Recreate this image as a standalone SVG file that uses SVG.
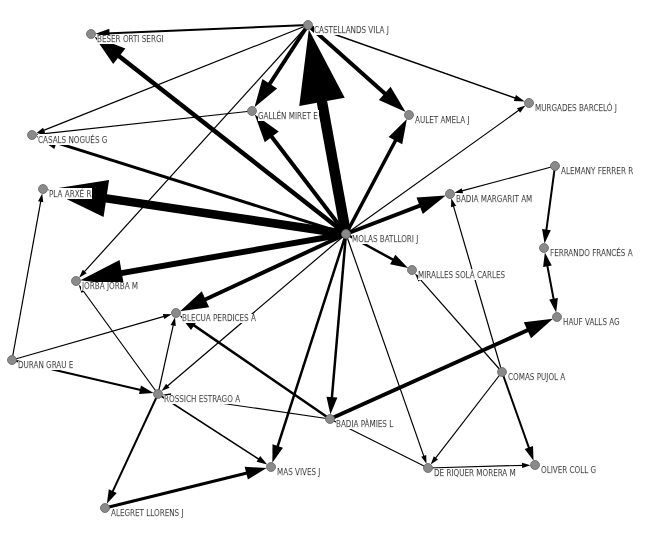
<svg xmlns="http://www.w3.org/2000/svg" width="648" height="542" viewBox="0 0 648 542">
<style>
.e{stroke:#000;fill:none}
.a{marker-end:url(#arr)}
.n circle{fill:#8a8a8a;stroke:#666;stroke-width:0.8}
.n text{font-family:"Liberation Sans Narrow","DejaVu Sans Condensed","Liberation Sans",sans-serif;font-stretch:condensed;font-size:8px;fill:#000;stroke:#000;stroke-width:0.25;filter:url(#bg)}
</style>
<defs>
<marker id="arr" viewBox="0 -2.2 7 4.4" markerWidth="7" markerHeight="4.4" refX="2" refY="0" orient="auto-start-reverse" markerUnits="strokeWidth" overflow="visible">
<path d="M0,-2.2 L7,0 L0,2.2 Z" fill="#000"/>
</marker>
<filter id="bg" x="0" y="0" width="1" height="1">
<feFlood flood-color="#fff"/>
<feComposite in="SourceGraphic" operator="over"/>
</filter>
</defs>
<rect width="648" height="542" fill="#fff"/>
<g id="edges" class="e">
<line class="a" x1="346" y1="234" x2="318.2" y2="81.1" stroke-width="10.5"/>
<line class="a" x1="346" y1="234" x2="89.5" y2="195.9" stroke-width="8.5"/>
<line class="a" x1="346" y1="234" x2="110" y2="275.1" stroke-width="6"/>
<line class="a" x1="346" y1="234" x2="112.2" y2="50.7" stroke-width="4.5"/>
<line class="a" x1="346" y1="234" x2="266.9" y2="130.5" stroke-width="4"/>
<line class="a" x1="346" y1="234" x2="398.7" y2="134.5" stroke-width="3.5"/>
<line class="a" x1="346" y1="234" x2="198.2" y2="302.7" stroke-width="4"/>
<line class="a" x1="346" y1="234" x2="427.1" y2="202.8" stroke-width="4"/>
<line class="a" x1="346" y1="234" x2="50.6" y2="140.9" stroke-width="3"/>
<line class="a" x1="346" y1="234" x2="397.1" y2="261.9" stroke-width="2.5"/>
<line class="a" x1="346" y1="234" x2="276.2" y2="450.8" stroke-width="2.5"/>
<line class="a" x1="346" y1="234" x2="331.5" y2="402.1" stroke-width="2.5"/>
<line class="a" x1="346" y1="234" x2="424.5" y2="458.1" stroke-width="1.2"/>
<line class="a" x1="346" y1="234" x2="520.5" y2="109.1" stroke-width="1.2"/>
<line class="a" x1="346" y1="234" x2="166" y2="387.2" stroke-width="1.2"/>
<line class="a" x1="308" y1="25" x2="105.5" y2="33.4" stroke-width="2"/>
<line class="a" x1="308" y1="25" x2="41.8" y2="131.1" stroke-width="1.2"/>
<line class="a" x1="308" y1="25" x2="265.4" y2="90.5" stroke-width="4"/>
<line class="a" x1="308" y1="25" x2="390.7" y2="98.7" stroke-width="4"/>
<line class="a" x1="308" y1="25" x2="517.7" y2="99" stroke-width="1.5"/>
<line class="a" x1="308" y1="25" x2="83.1" y2="273.2" stroke-width="1.2"/>
<line class="a" x1="252" y1="111" x2="42.4" y2="133.9" stroke-width="1.2"/>
<line class="a" x1="555" y1="166" x2="460.1" y2="191.3" stroke-width="1.2"/>
<line class="a" x1="555" y1="166" x2="545.9" y2="233.6" stroke-width="2"/>
<line class="a" x1="546.7" y1="262.3" x2="554.3" y2="302.7" stroke-width="2" marker-start="url(#arr)"/>
<line class="a" x1="330" y1="419" x2="534.7" y2="327" stroke-width="4"/>
<line class="a" x1="502" y1="372" x2="452.9" y2="204.1" stroke-width="1.2"/>
<line class="a" x1="502" y1="372" x2="418.9" y2="277.9" stroke-width="1.2"/>
<line class="a" x1="502" y1="372" x2="530.2" y2="451.3" stroke-width="2"/>
<line class="a" x1="502" y1="372" x2="434.4" y2="459.7" stroke-width="1.2"/>
<line class="a" x1="428" y1="468" x2="524.5" y2="465.3" stroke-width="1.2"/>
<line x1="330" y1="419" x2="428" y2="468" stroke-width="1.2"/>
<line class="a" x1="330" y1="419" x2="190" y2="322.6" stroke-width="2.5"/>
<line class="a" x1="330" y1="419" x2="168.4" y2="395.5" stroke-width="1.2"/>
<line class="a" x1="12" y1="360" x2="41.1" y2="199.3" stroke-width="1.2"/>
<line class="a" x1="12" y1="360" x2="165.9" y2="315.9" stroke-width="1.2"/>
<line class="a" x1="12" y1="360" x2="143.9" y2="390.7" stroke-width="2"/>
<line class="a" x1="158" y1="394" x2="82.2" y2="289.5" stroke-width="1.2"/>
<line class="a" x1="158" y1="394" x2="173.7" y2="323.2" stroke-width="1.2"/>
<line class="a" x1="158" y1="394" x2="111.1" y2="494.8" stroke-width="2"/>
<line class="a" x1="158" y1="394" x2="260.9" y2="460.5" stroke-width="1.5"/>
<line class="a" x1="105" y1="508" x2="252.1" y2="471.7" stroke-width="3"/>
</g>
<g id="n-castellands" class="n"><circle cx="308" cy="25" r="4.5"/><text x="314" y="33">CASTELLANDS VILA J</text></g>
<g id="n-beser" class="n"><circle cx="91" cy="34" r="4.5"/><text x="97" y="42">BESER ORTI SERGI</text></g>
<g id="n-gallen" class="n"><circle cx="252" cy="111" r="4.5"/><text x="258" y="119">GALLÉN MIRET E</text></g>
<g id="n-casals" class="n"><circle cx="32" cy="135" r="4.5"/><text x="38" y="143">CASALS NOGUÉS G</text></g>
<g id="n-aulet" class="n"><circle cx="409" cy="115" r="4.5"/><text x="415" y="123">AULET AMELA J</text></g>
<g id="n-murgades" class="n"><circle cx="529" cy="103" r="4.5"/><text x="535" y="111">MURGADES BARCELÓ J</text></g>
<g id="n-alemany" class="n"><circle cx="555" cy="166" r="4.5"/><text x="561" y="174">ALEMANY FERRER R</text></g>
<g id="n-pla" class="n"><circle cx="43" cy="189" r="4.5"/><text x="49" y="197">PLA ARXÉ R</text></g>
<g id="n-jorba" class="n"><circle cx="76" cy="281" r="4.5"/><text x="82" y="289">JORBA JORBA M</text></g>
<g id="n-blecua" class="n"><circle cx="176" cy="313" r="4.5"/><text x="182" y="321">BLECUA PERDICES A</text></g>
<g id="n-duran" class="n"><circle cx="12" cy="360" r="4.5"/><text x="18" y="368">DURAN GRAU E</text></g>
<g id="n-molas" class="n"><circle cx="346" cy="234" r="4.5"/><text x="352" y="242">MOLAS BATLLORI J</text></g>
<g id="n-badiam" class="n"><circle cx="450" cy="194" r="4.5"/><text x="456" y="202">BADIA MARGARIT AM</text></g>
<g id="n-ferrando" class="n"><circle cx="544" cy="248" r="4.5"/><text x="550" y="256">FERRANDO FRANCÉS A</text></g>
<g id="n-miralles" class="n"><circle cx="412" cy="270" r="4.5"/><text x="418" y="278">MIRALLES SOLÀ CARLES</text></g>
<g id="n-hauf" class="n"><circle cx="557" cy="317" r="4.5"/><text x="563" y="325">HAUF VALLS AG</text></g>
<g id="n-comas" class="n"><circle cx="502" cy="372" r="4.5"/><text x="508" y="380">COMAS PUJOL A</text></g>
<g id="n-rossich" class="n"><circle cx="158" cy="394" r="4.5"/><text x="164" y="402">ROSSICH ESTRAGO A</text></g>
<g id="n-badiap" class="n"><circle cx="330" cy="419" r="4.5"/><text x="336" y="427">BADIA PÀMIES L</text></g>
<g id="n-mas" class="n"><circle cx="271" cy="467" r="4.5"/><text x="277" y="475">MAS VIVES J</text></g>
<g id="n-deriquer" class="n"><circle cx="428" cy="468" r="4.5"/><text x="434" y="476">DE RIQUER MORERA M</text></g>
<g id="n-oliver" class="n"><circle cx="535" cy="465" r="4.5"/><text x="541" y="473">OLIVER COLL G</text></g>
<g id="n-alegret" class="n"><circle cx="105" cy="508" r="4.5"/><text x="111" y="516">ALEGRET LLORENS J</text></g>
</svg>
